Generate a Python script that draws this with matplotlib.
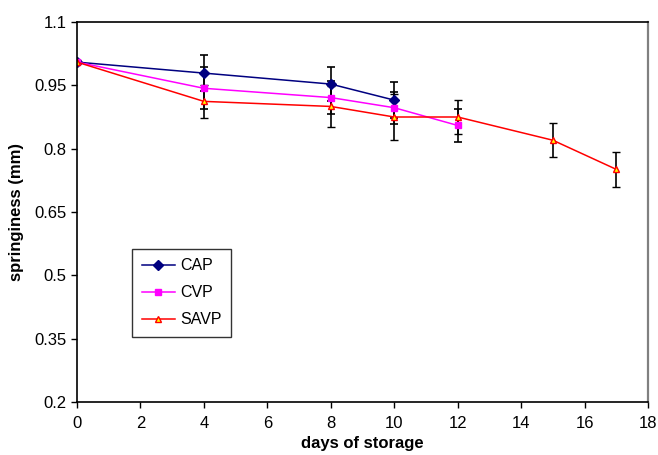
import matplotlib
matplotlib.use("Agg")
import matplotlib.pyplot as plt

plt.rcParams['font.family'] = ['Liberation Sans', 'DejaVu Sans']

# days of storage
cap_days = [0, 4, 8, 10]
cvp_days = [0, 4, 8, 10, 12]
savp_days = [0, 4, 8, 10, 12, 15, 17]

# springiness (mm) and error bars
cap_vals = [1.005, 0.979, 0.953, 0.915]
cap_err = [0.004, 0.043, 0.040, 0.043]
cvp_vals = [1.005, 0.943, 0.921, 0.897, 0.855]
cvp_err = [0.004, 0.050, 0.039, 0.038, 0.039]
savp_vals = [1.005, 0.912, 0.900, 0.875, 0.875, 0.820, 0.751]
savp_err = [0.004, 0.039, 0.048, 0.055, 0.041, 0.040, 0.042]

x_ticks = [0, 2, 4, 6, 8, 10, 12, 14, 16, 18]
y_ticks = [0.2, 0.35, 0.5, 0.65, 0.8, 0.95, 1.1]
y_labels = ['0.2', '0.35', '0.5', '0.65', '0.8', '0.95', '1.1']

fig = plt.figure(figsize=(6.58, 4.55), dpi=100)
ax = fig.add_axes([77/658, 53/455, 571/658, 380/455])

err_kw = dict(ecolor='black', elinewidth=1.2, capsize=3, capthick=1.2)

ax.errorbar(cap_days, cap_vals, yerr=cap_err, color='#000080', lw=1.1,
            marker='D', ms=5, mfc='#000080', mec='#000080', label='CAP', **err_kw)
ax.errorbar(cvp_days, cvp_vals, yerr=cvp_err, color='#FF00FF', lw=1.1,
            marker='s', ms=5, mfc='#FF00FF', mec='#FF00FF', label='CVP', **err_kw)
ax.errorbar(savp_days, savp_vals, yerr=savp_err, color='#FF0000', lw=1.1,
            marker='^', ms=5, mfc='#FFFF00', mec='#FF0000', mew=1.0,
            label='SAVP', **err_kw)

ax.set_xlim(0, 18)
ax.set_ylim(0.2, 1.1)
ax.set_xticks(x_ticks)
ax.set_xticklabels([str(t) for t in x_ticks])
ax.set_yticks(y_ticks)
ax.set_yticklabels(y_labels)
ax.tick_params(direction='out', length=4, width=1, labelsize=12, colors='black')
ax.tick_params(axis='x', pad=6)

for s in ['left', 'bottom', 'top']:
    ax.spines[s].set_linewidth(1.2)
ax.spines['right'].set_color('#808080')
ax.spines['right'].set_linewidth(1.6)

ax.set_xlabel('days of storage', fontsize=12, fontweight='bold', labelpad=4)
ax.set_ylabel('springiness (mm)', fontsize=12, fontweight='bold', labelpad=7)

handles, labels = ax.get_legend_handles_labels()
handles = [h[0] for h in handles]
leg = ax.legend(handles, labels, loc='lower left', bbox_to_anchor=(0.0963, 0.171),
                borderaxespad=0, fontsize=11.5, frameon=True, fancybox=False,
                edgecolor='black', handlelength=2.1, handletextpad=0.3,
                borderpad=0.6, labelspacing=0.75)
leg.get_frame().set_linewidth(1.0)

fig.savefig('out.png', dpi=100)
